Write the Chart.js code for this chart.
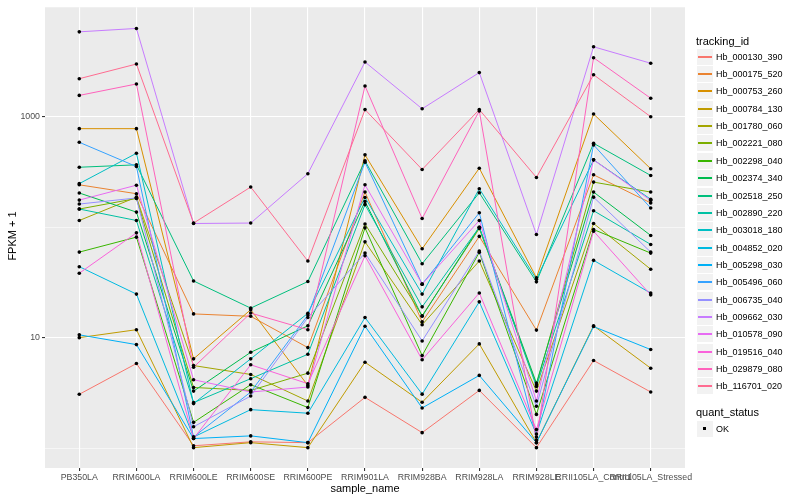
<!DOCTYPE html>
<html>
<head>
<meta charset="utf-8">
<script src="https://cdn.jsdelivr.net/npm/chart.js@4.4.0/dist/chart.umd.min.js"></script>
<style>
    body { margin: 0; background: #fff; font-family: "Liberation Sans", Arial, sans-serif; }
    #wrap { position: relative; width: 800px; height: 500px; }
    #chart { position: absolute; left: 0; top: 0; }
    .axis-title { position: absolute; font-size: 11px; font-weight: normal; color: #000; white-space: nowrap; line-height: 12px; text-align: center; }
    .legend-title { position: absolute; left: 696px; font-size: 11px; line-height: 12px; color: #000; }
    .key { position: absolute; left: 697px; width: 16px; height: 16px; background: #F2F2F2; }
    .key-line { position: absolute; left: 1px; right: 1px; top: 7px; height: 1.5px; }
    .key-dot { position: absolute; left: 6px; top: 6px; width: 3px; height: 3px; background: #000; }
    .key-label { position: absolute; left: 716px; font-size: 9px; line-height: 10px; color: #000; white-space: nowrap; }
</style>
</head>
<body>
<div id="wrap">
    <canvas id="chart" width="800" height="500"></canvas>
    <div class="axis-title" style="left:315px; top:482px; width:100px;">sample_name</div>
    <div class="axis-title" style="left:-28px; top:230px; width:80px; transform:rotate(-90deg);">FPKM + 1</div>
    <div id="legend"></div>
</div>
<script>
const sampleNames = ['PB350LA', 'RRIM600LA', 'RRIM600LE', 'RRIM600SE', 'RRIM600PE', 'RRIM901LA',
    'RRIM928BA', 'RRIM928LA', 'RRIM928LE', 'RRII105LA_Control', 'RRII105LA_Stressed'];

const trackingIds = ['Hb_000130_390', 'Hb_000175_520', 'Hb_000753_260', 'Hb_000784_130', 'Hb_001780_060',
    'Hb_002221_080', 'Hb_002298_040', 'Hb_002374_340', 'Hb_002518_250', 'Hb_002890_220',
    'Hb_003018_180', 'Hb_004852_020', 'Hb_005298_030', 'Hb_005496_060', 'Hb_006735_040',
    'Hb_009662_030', 'Hb_010578_090', 'Hb_019516_040', 'Hb_029879_080', 'Hb_116701_020'];

// FPKM + 1, one value per sample
const hb_000130_390 = [3.07, 5.83, 1.05, 1.14, 1.12, 2.88, 1.38, 3.33, 1.01, 6.21, 3.22];
const hb_000175_520 = [242, 201, 16.4, 15.6, 8.13, 208, 13.9, 82.5, 11.7, 298, 166];
const hb_000753_260 = [780, 780, 6.43, 17.9, 3.69, 452, 63.8, 342, 34.9, 1058, 338];
const hb_000784_130 = [10, 11.8, 1.01, 1.12, 1.01, 5.99, 2.6, 8.78, 1.12, 12.8, 5.29];
const hb_001780_060 = [115, 187, 5.59, 4.64, 2.67, 73.7, 13.1, 49.4, 3.28, 108, 41.6];
const hb_002221_080 = [146, 182, 3.54, 3.33, 4.77, 107, 15.8, 97.3, 3.75, 256, 208];
const hb_002298_040 = [59.5, 81.3, 1.71, 3.75, 2.33, 98.6, 6.88, 59.2, 2.02, 95.3, 58.3];
const hb_002374_340 = [204, 137, 3.28, 7.37, 12.8, 171, 15.6, 100, 3.88, 208, 84.2];
const hb_002518_250 = [349, 367, 32.6, 18.5, 32.2, 399, 46.7, 205, 32.0, 575, 294];
const hb_002890_220 = [146, 115, 2.58, 4.25, 7.07, 160, 19.0, 100, 3.62, 141, 69.8];
const hb_003018_180 = [248, 467, 2.53, 6.43, 16.6, 186, 24.8, 223, 33.8, 407, 179];
const hb_004852_020 = [43.9, 24.8, 1.26, 2.23, 2.07, 15.2, 3.08, 21.1, 1.34, 50.1, 25.3];
const hb_005298_030 = [10.6, 8.65, 1.22, 1.29, 1.12, 12.7, 2.31, 4.55, 1.12, 12.6, 7.8];
const hb_005496_060 = [587, 354, 1.26, 3.22, 16.0, 388, 30.5, 135, 1.26, 556, 149];
const hb_006735_040 = [162, 184, 1.56, 2.96, 15.2, 58.3, 9.34, 60.8, 2.39, 187, 59.5];
const hb_009662_030 = [5870, 6300, 108, 109, 305, 3130, 1180, 2510, 85.9, 4300, 3050];
const hb_010578_090 = [176, 240, 4.16, 3.22, 3.57, 242, 30.5, 115, 2.67, 407, 175];
const hb_019516_040 = [38.3, 88.9, 1.22, 5.68, 3.83, 55.1, 6.3, 25.4, 1.47, 92.0, 24.4];
const hb_029879_080 = [1560, 1980, 5.4, 16.7, 11.8, 1900, 120, 1130, 1.18, 3420, 1470];
const hb_116701_020 = [2210, 3000, 109, 231, 49.4, 1160, 333, 1160, 282, 2400, 1000];

const seriesValues = [hb_000130_390, hb_000175_520, hb_000753_260, hb_000784_130, hb_001780_060,
    hb_002221_080, hb_002298_040, hb_002374_340, hb_002518_250, hb_002890_220,
    hb_003018_180, hb_004852_020, hb_005298_030, hb_005496_060, hb_006735_040,
    hb_009662_030, hb_010578_090, hb_019516_040, hb_029879_080, hb_116701_020];

const yTickLabels = [10, 1000];
const yMinorBreaks = [1, 100];

// ggplot default hue palette for 20 levels
const huePalette = ['#F8766D', '#EA8331', '#D89000', '#C09B00', '#A3A500', '#7CAE00', '#39B600',
    '#00BB4E', '#00BF7D', '#00C1A3', '#00BFC4', '#00BAE0', '#00B0F6', '#35A2FF', '#9590FF',
    '#C77CFF', '#E76BF3', '#FA62DB', '#FF62BC', '#FF6C91'];

const fontFamily = '"Liberation Sans", Arial, sans-serif';

const panelBackground = {
    id: 'panelBackground',
    beforeDraw(chart) {
        const { ctx, chartArea: a } = chart;
        ctx.save();
        ctx.fillStyle = '#EBEBEB';
        ctx.fillRect(a.left, a.top, a.right - a.left, a.bottom - a.top);
        ctx.restore();
    }
};

const lineSets = seriesValues.map((vals, i) => ({
    label: trackingIds[i],
    data: vals.map((v, j) => ({ x: j, y: v })),
    showLine: true,
    borderColor: huePalette[i],
    borderWidth: 1,
    pointRadius: 0,
    fill: false,
    tension: 0,
    order: 40 - i
}));

const pointSet = {
    label: 'OK',
    data: seriesValues.flatMap(vals => vals.map((v, j) => ({ x: j, y: v }))),
    showLine: false,
    pointRadius: 1.8,
    pointBorderWidth: 0,
    pointBackgroundColor: '#000',
    pointBorderColor: '#000',
    order: 0
};

const isLabelled = (ctx) => ctx.tick && yTickLabels.includes(ctx.tick.value);

new Chart(document.getElementById('chart').getContext('2d'), {
    type: 'scatter',
    data: { datasets: [...lineSets, pointSet] },
    options: {
        responsive: false,
        animation: false,
        events: [],
        layout: { padding: { left: 0, right: 115, top: 5, bottom: 0 } },
        plugins: { legend: { display: false }, tooltip: { enabled: false } },
        scales: {
            x: {
                type: 'linear',
                min: -0.6,
                max: 10.6,
                afterBuildTicks: (s) => { s.ticks = sampleNames.map((_, i) => ({ value: i })); },
                afterFit: (s) => { s.height = 32; },
                ticks: {
                    callback: (v, i) => sampleNames[i],
                    autoSkip: false,
                    maxRotation: 0,
                    minRotation: 0,
                    padding: 1,
                    color: '#4D4D4D',
                    font: { size: 8.8, family: fontFamily }
                },
                grid: { color: '#FFFFFF', lineWidth: 1.1, tickLength: 3, tickColor: '#333333' },
                border: { display: false }
            },
            y: {
                type: 'logarithmic',
                min: 0.6605,
                max: 9795,
                afterBuildTicks: (s) => {
                    s.ticks = [...yMinorBreaks, ...yTickLabels].sort((a, b) => a - b).map(v => ({ value: v }));
                },
                afterFit: (s) => { s.width = 45; },
                ticks: {
                    callback: (v) => yTickLabels.includes(v) ? String(v) : '',
                    autoSkip: false,
                    padding: 2,
                    color: '#4D4D4D',
                    font: { size: 8.8, family: fontFamily }
                },
                grid: {
                    color: '#FFFFFF',
                    lineWidth: (ctx) => isLabelled(ctx) ? 1.1 : 0.55,
                    tickLength: 3,
                    tickColor: (ctx) => isLabelled(ctx) ? '#333333' : 'rgba(0,0,0,0)'
                },
                border: { display: false }
            }
        }
    },
    plugins: [panelBackground]
});

// legend, ggplot style
const legend = document.getElementById('legend');
const addTitle = (text, centerY) => {
    const t = document.createElement('div');
    t.className = 'legend-title';
    t.textContent = text;
    t.style.top = Math.round(centerY - 6) + 'px';
    legend.appendChild(t);
};
const addKey = (label, centerY, inner) => {
    const key = document.createElement('div');
    key.className = 'key';
    key.style.top = Math.round(centerY - 8) + 'px';
    key.appendChild(inner);
    legend.appendChild(key);
    const lab = document.createElement('div');
    lab.className = 'key-label';
    lab.textContent = label;
    lab.style.top = Math.round(centerY - 5) + 'px';
    legend.appendChild(lab);
};
addTitle('tracking_id', 40.7);
trackingIds.forEach((id, i) => {
    const line = document.createElement('div');
    line.className = 'key-line';
    line.style.background = huePalette[i];
    addKey(id, 56.7 + i * 17.35, line);
});
addTitle('quant_status', 412.3);
const dot = document.createElement('div');
dot.className = 'key-dot';
addKey('OK', 429, dot);
</script>
</body>
</html>
